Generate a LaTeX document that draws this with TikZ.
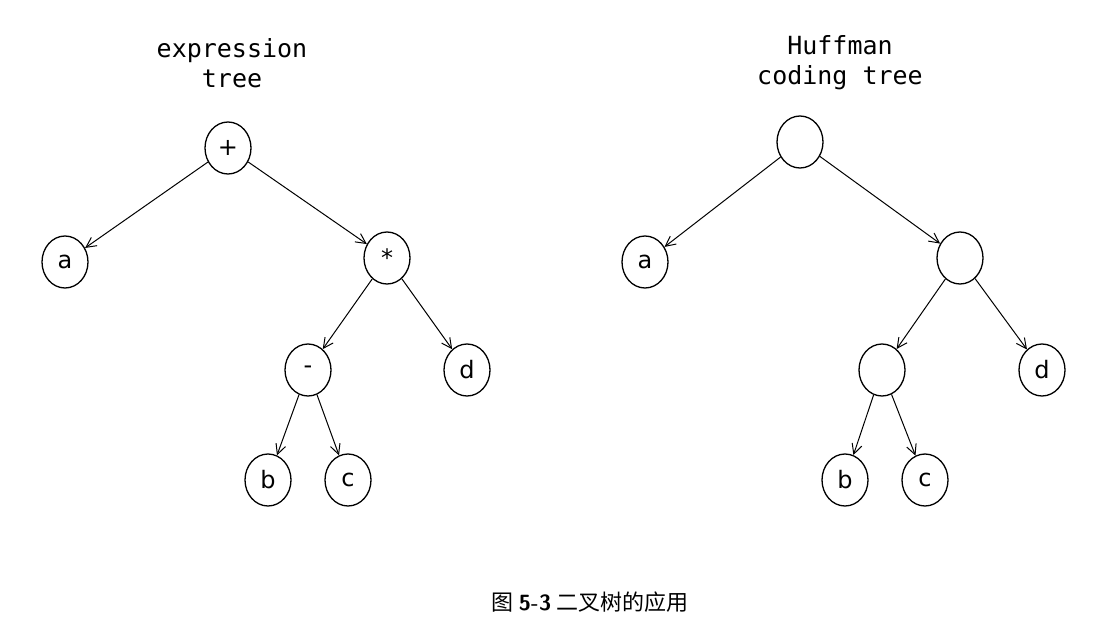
\documentclass[tikz,border=0pt]{standalone}
\usepackage{fontspec}
\setmainfont{DejaVu Sans}
\newfontfamily\monof{DejaVu Sans Mono}
\newfontfamily\cjk{Noto Sans CJK SC}
\usetikzlibrary{shapes.geometric,arrows.meta}
\begin{document}
\begin{tikzpicture}[x=1pt,y=-1pt,
 tn/.style={draw,ellipse,line width=1.3pt,minimum width=46pt,minimum height=52pt,inner sep=0pt,font=\fontsize{24}{24}\selectfont},
 ar/.style={-{Straight Barb[length=10pt,width=10pt]},line width=1pt},
 ttl/.style={font=\monof\fontsize{25}{30}\selectfont,align=center}]
\useasboundingbox (0,0) rectangle (1107,640);
\node[ttl] (t1) at (232,63) {expression\\tree};
\node[ttl] (t2) at (840,63) {Huffman\\coding tree};
\node[tn] (p) at (228,148) {+};
\node[tn] (a) at (65,262) {a};
\node[tn] (m) at (387,258) {*};
\node[tn] (s) at (308,370) {-};
\node[tn] (d) at (467,370) {d};
\node[tn] (b) at (268,480) {b};
\node[tn] (c) at (348,480) {c};
\draw[ar] (p) -- (a); \draw[ar] (p) -- (m);
\draw[ar] (m) -- (s); \draw[ar] (m) -- (d);
\draw[ar] (s) -- (b); \draw[ar] (s) -- (c);
\node[tn] (r) at (800,142) {};
\node[tn] (a2) at (645,262) {a};
\node[tn] (n2) at (960,258) {};
\node[tn] (n3) at (882,370) {};
\node[tn] (d2) at (1042,370) {d};
\node[tn] (b2) at (845,480) {b};
\node[tn] (c2) at (925,480) {c};
\draw[ar] (r) -- (a2); \draw[ar] (r) -- (n2);
\draw[ar] (n2) -- (n3); \draw[ar] (n2) -- (d2);
\draw[ar] (n3) -- (b2); \draw[ar] (n3) -- (c2);
\node (cap) at (590,602) {\fontsize{22}{22}\selectfont\cjk 图 \textbf{\sffamily 5-3} 二叉树的应用};
\end{tikzpicture}
\end{document}
